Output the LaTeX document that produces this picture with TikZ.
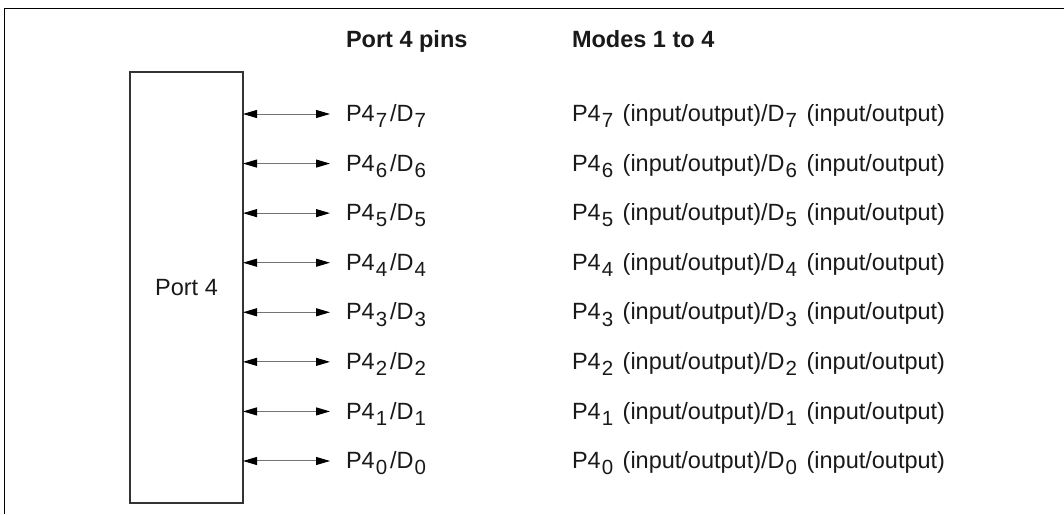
\documentclass[tikz,border=0pt]{standalone}
\usepackage{fontspec}
\setmainfont{Liberation Sans}
\usetikzlibrary{arrows.meta}
\newcommand\sbs[1]{\kern1pt\raisebox{-0.26em}{\fontsize{20.5}{20.5}\selectfont #1}\kern3pt\relax}
\begin{document}
\begin{tikzpicture}[x=1pt,y=1pt,
  font=\fontsize{23.5}{28}\selectfont,
  every node/.style={inner sep=0pt, outer sep=0pt},
  lbl/.style={anchor=base west, text=black!90},
  hdr/.style={anchor=base west, text=black!90, font=\fontsize{23.5}{28}\selectfont\bfseries},
  pin/.style={draw=black!55, line width=1pt,
    {Triangle[length=14pt,width=8pt,color=black]}-{Triangle[length=14pt,width=8pt,color=black]}},
  portbox/.style={draw=black!80, line width=1.1pt, minimum width=113pt, minimum height=431pt, text=black!90}]
\useasboundingbox (0,0) rectangle (1064,-514);
\draw[line width=1.5pt] (4.7,-514) -- (4.7,-8.5) -- (1064,-8.5);
\node[hdr] (h1) at (346,-47.3) {Port 4 pins};
\node[hdr] (h2) at (572,-47.3) {Modes 1 to 4};
\node[portbox] (port) at (186.5,-287.5) {Port 4};
\foreach \i/\n in {0/7,1/6,2/5,3/4,4/3,5/2,6/1,7/0} {
  \pgfmathsetmacro\yy{-114-49.57*\i}
  \coordinate (t\n) at (330,\yy);
  \draw[pin] (port.east |- t\n) -- (t\n);
  \node[lbl] (p\n) at (346,\yy-7.7) {P4\sbs{\n}/D\sbs{\n}};
  \node[lbl] (m\n) at (572,\yy-7.7) {P4\sbs{\n} (input/output)/D\sbs{\n} (input/output)};
}
\end{tikzpicture}
\end{document}
